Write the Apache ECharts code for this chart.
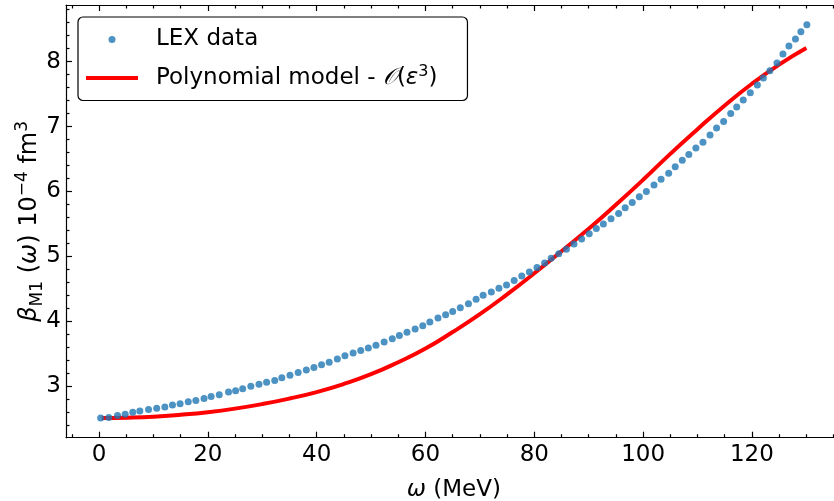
<!DOCTYPE html>
<html>
<head>
<meta charset="utf-8">
<script src="https://cdn.jsdelivr.net/npm/echarts@6/dist/echarts.min.js"></script>
<style>html,body{margin:0;padding:0;background:#fff}#c{width:834px;height:501px}</style>
</head>
<body>
<div id="c"></div>
<script>
// LEX data points
const lexX = [0.3,1.8,3.4,4.8,6.2,7.5,9.1,10.6,12.1,13.5,14.9,16.4,17.8,19.3,20.6,22.1,23.8,25.1,26.4,27.9,29.4,30.8,32.3,33.6,35.1,36.6,38.1,39.5,40.9,42.3,43.8,45.2,46.7,48.1,49.5,50.9,52.4,53.9,55.2,56.6,58.1,59.5,60.8,62.3,63.7,65.0,66.4,67.9,69.3,70.6,72.1,73.5,74.9,76.3,77.7,79.1,80.5,81.9,83.1,84.5,85.9,87.3,88.7,90.1,91.4,92.7,94.1,95.5,96.7,98.0,99.3,100.6,102.0,103.3,104.7,105.9,107.2,108.4,109.7,111.0,112.3,113.5,114.8,116.1,117.2,118.4,119.7,121.0,122.1,123.3,124.6,125.7,126.8,128.0,129.0,130.1];
const lexY = [2.51,2.52,2.55,2.57,2.60,2.62,2.64,2.66,2.68,2.71,2.73,2.76,2.78,2.81,2.84,2.87,2.91,2.93,2.96,3.00,3.03,3.06,3.09,3.13,3.17,3.21,3.25,3.29,3.33,3.37,3.42,3.47,3.51,3.55,3.59,3.63,3.68,3.73,3.78,3.83,3.88,3.93,3.99,4.05,4.10,4.15,4.21,4.27,4.34,4.40,4.45,4.51,4.56,4.63,4.70,4.76,4.83,4.90,4.97,5.04,5.11,5.19,5.27,5.35,5.43,5.50,5.58,5.66,5.75,5.83,5.92,6.00,6.10,6.19,6.28,6.38,6.48,6.57,6.67,6.76,6.87,6.98,7.08,7.20,7.30,7.41,7.52,7.64,7.75,7.86,7.98,8.12,8.24,8.35,8.46,8.57];
// Polynomial model O(eps^3) curve
const polyX = [0.5,5,10,15,20,25,30,35,40,45,50,55,60,65,70,75,80,85,90,95,100,105,110,115,120,125,130];
const polyY = [2.51,2.515,2.53,2.56,2.60,2.655,2.725,2.81,2.91,3.035,3.185,3.37,3.58,3.835,4.11,4.415,4.74,5.08,5.425,5.795,6.18,6.58,6.96,7.325,7.66,7.955,8.21];
// axis ticks
const xMajorTicks = [0,20,40,60,80,100,120];
const xMinorTicks = [-5,5,10,15,25,30,35,45,50,55,65,70,75,85,90,95,105,110,115,125,130,135];
const yMajorTicks = [3,4,5,6,7,8];
const yMinorTicks = [2.4,2.6,2.8,3.2,3.4,3.6,3.8,4.2,4.4,4.6,4.8,5.2,5.4,5.6,5.8,6.2,6.4,6.6,6.8,7.2,7.4,7.6,7.8,8.2,8.4,8.6,8.8];

const X_MIN = -6.07, X_MAX = 136.5, Y_MIN = 2.207, Y_MAX = 8.873;
const FONT = 'DejaVu Sans';
const lexData = lexX.map((x, i) => [x, lexY[i]]);
const polyData = polyX.map((x, i) => [x, polyY[i]]);

const lineStyle = { color: '#000', width: 1.2 };
function xAxisDef(pos, ticks, len, showLine, showLabel) {
  return {
    type: 'value', position: pos, min: X_MIN, max: X_MAX,
    axisLine: { show: showLine, onZero: false, lineStyle },
    splitLine: { show: false },
    axisTick: { show: true, inside: true, length: len, customValues: ticks, lineStyle },
    axisLabel: { show: showLabel, customValues: ticks, margin: 6, color: '#000', fontFamily: FONT, fontSize: 23 }
  };
}
function yAxisDef(ticks, len, showLine, showLabel) {
  return {
    type: 'value', position: 'left', min: Y_MIN, max: Y_MAX,
    axisLine: { show: showLine, onZero: false, lineStyle },
    splitLine: { show: false },
    axisTick: { show: true, inside: true, length: len, customValues: ticks, lineStyle },
    axisLabel: { show: showLabel, customValues: ticks, margin: 5, color: '#000', fontFamily: FONT, fontSize: 23 }
  };
}

const xa0 = xAxisDef('bottom', xMajorTicks, 6, true, true);
xa0.name = '{i|ω}{n| (MeV)}';
xa0.nameLocation = 'middle';
xa0.nameGap = 41;
xa0.nameTextStyle = {
  rich: {
    n: { fontFamily: FONT, fontSize: 23, color: '#000' },
    i: { fontFamily: FONT, fontSize: 23, fontStyle: 'italic', color: '#000' }
  }
};
const ya0 = yAxisDef(yMajorTicks, 6, true, true);
ya0.name = '{b|β}{s|M1}{n| (}{i|ω}{n|) 10}{p|−4}{n| fm}{p|3}';
ya0.nameLocation = 'middle';
ya0.nameRotate = 90;
ya0.nameGap = 20;
ya0.nameMoveOverlap = false;
ya0.nameTextStyle = {
  rich: {
    n: { fontFamily: FONT, fontSize: 24, color: '#000', lineHeight: 32 },
    b: { fontFamily: FONT, fontSize: 24, fontStyle: 'italic', color: '#000', lineHeight: 32 },
    i: { fontFamily: FONT, fontSize: 24, fontStyle: 'italic', color: '#000', lineHeight: 32 },
    s: { fontFamily: FONT, fontSize: 17, color: '#000', lineHeight: 21, verticalAlign: 'bottom' },
    p: { fontFamily: FONT, fontSize: 17, color: '#000', lineHeight: 18, verticalAlign: 'top' }
  }
};

const chart = echarts.init(document.getElementById('c'), null, { renderer: 'canvas' });
chart.setOption({
  animation: false,
  backgroundColor: '#fff',
  grid: { left: 66, top: 5, right: -7.7, bottom: 63.3, containLabel: false, outerBoundsMode: 'none' },
  xAxis: [
    xa0,
    xAxisDef('bottom', xMinorTicks, 3.5, false, false),
    xAxisDef('top', xMajorTicks, 6, true, false),
    xAxisDef('top', xMinorTicks, 3.5, false, false)
  ],
  yAxis: [
    ya0,
    yAxisDef(yMinorTicks, 3.5, false, false)
  ],
  legend: {
    left: 78, top: 17, orient: 'vertical',
    itemWidth: 52, itemHeight: 7, itemGap: 13,
    padding: [11, 30, 11, 8],
    borderColor: '#000', borderWidth: 1.2, borderRadius: 5,
    backgroundColor: '#fff',
    data: [
      { name: 'LEX data', icon: 'circle' },
      { name: 'Polynomial model', icon: 'path://M0,0L52,0L52,4L0,4Z' }
    ],
    formatter: function (name) {
      if (name === 'LEX data') return '{g| }{n|LEX data}';
      return '{g| }{n|Polynomial model - }{c|𝒪}{n|(}{i|ε}{p|3}{n|)}';
    },
    textStyle: {
      rich: {
        g: { width: 13, fontSize: 23, lineHeight: 28 },
        n: { fontFamily: FONT, fontSize: 23, color: '#000', lineHeight: 28 },
        c: { fontFamily: FONT, fontSize: 23, fontStyle: 'italic', color: '#000', lineHeight: 28 },
        i: { fontFamily: FONT, fontSize: 23, fontStyle: 'italic', color: '#000', lineHeight: 28 },
        p: { fontFamily: FONT, fontSize: 16, color: '#000', lineHeight: 16, verticalAlign: 'top' }
      }
    }
  },
  series: [
    {
      name: 'LEX data', type: 'scatter', data: lexData, xAxisIndex: 0, yAxisIndex: 0,
      symbol: 'circle', symbolSize: 7, z: 3,
      itemStyle: { color: '#1f77b4', opacity: 0.8 }
    },
    {
      name: 'Polynomial model', type: 'line', data: polyData, xAxisIndex: 0, yAxisIndex: 0,
      symbol: 'none', smooth: 0.5, z: 2,
      lineStyle: { color: '#ff0000', width: 4 },
      itemStyle: { color: '#ff0000' }
    }
  ]
});
</script>
</body>
</html>
